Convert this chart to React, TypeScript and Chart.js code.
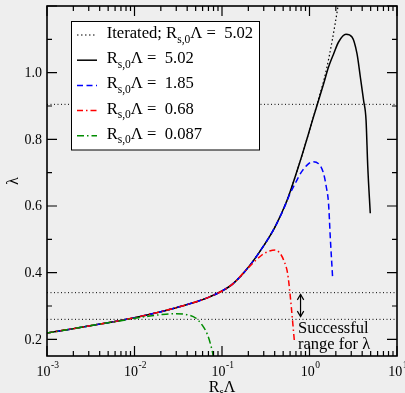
import React, { useEffect, useRef } from "react";
import { Chart, registerables } from "chart.js";

Chart.register(...registerables);

// ---------- data ----------
const xDecades = [-3, -2, -1, 0, 1];
const yTickLabels = ["0.2", "0.4", "0.6", "0.8", "1.0"];
const yMajorTicks = [0.2, 0.4, 0.6, 0.8, 1.0, 1.2];
const yMinorTicks = [0.3, 0.5, 0.7, 0.9, 1.1];

// shared low-x branch
const baseX = [0.001, 0.002, 0.003, 0.005, 0.01, 0.02, 0.03, 0.05, 0.07, 0.1, 0.135];
const baseY = [0.219, 0.232, 0.240, 0.250, 0.265, 0.283, 0.295, 0.312, 0.326, 0.345, 0.368];

// R_s,0 Λ = 5.02
const blackTailX = [0.2, 0.3, 0.4, 0.55, 0.7, 0.85, 1.0, 1.094, 1.27, 1.45, 1.65, 1.89, 2.15, 2.61, 3.06, 3.49, 3.81, 4.15, 4.43, 4.63, 4.95];
const blackTailY = [0.416, 0.481, 0.535, 0.615, 0.695, 0.765, 0.827, 0.862, 0.917, 0.967, 1.017, 1.057, 1.092, 1.115, 1.107, 1.057, 0.987, 0.917, 0.857, 0.72, 0.578];

// Iterated
const iterTailX = [0.2, 0.3, 0.4, 0.55, 0.7, 0.85, 1.0, 1.094, 1.22, 1.585, 2.12, 2.4];
const iterTailY = [0.416, 0.481, 0.535, 0.615, 0.695, 0.765, 0.827, 0.862, 0.905, 1.017, 1.2, 1.3];

// R_s,0 Λ = 1.85
const blueTailX = [0.2, 0.3, 0.4, 0.5, 0.6, 0.7, 0.8, 0.95, 1.08, 1.27, 1.45, 1.556, 1.65, 1.73, 1.84];
const blueTailY = [0.416, 0.481, 0.535, 0.588, 0.637, 0.672, 0.7, 0.724, 0.733, 0.727, 0.697, 0.657, 0.608, 0.503, 0.383];

// R_s,0 Λ = 0.68
const redTailX = [0.2, 0.286, 0.35, 0.407, 0.46, 0.506, 0.562, 0.593, 0.624, 0.67];
const redTailY = [0.415, 0.453, 0.465, 0.468, 0.458, 0.438, 0.398, 0.348, 0.288, 0.198];

// R_s,0 Λ = 0.087
const greenX = [0.001, 0.002, 0.003, 0.005, 0.007, 0.01, 0.015, 0.02, 0.03, 0.04, 0.05, 0.06, 0.068, 0.074, 0.078, 0.081];
const greenY = [0.219, 0.232, 0.240, 0.250, 0.256, 0.263, 0.270, 0.274, 0.277, 0.274, 0.264, 0.241, 0.215, 0.185, 0.16, 0.135];

const hLineX = [0.001, 10];
const hLineY = [0.905, 0.34, 0.26];

const arrowX = 0.79;
const arrowY = [0.335, 0.268];

const legendPrefix = ["Iterated; R", "R", "R", "R", "R"];
const legendValues = ["5.02", "5.02", "1.85", "0.68", "0.087"];
const annotationLines = ["Successful", "range for \u03bb"];

// ---------- styles ----------
const FONT = "'Liberation Serif', 'DejaVu Serif', serif";
const BG = "#eeeeee";
const GREEN = "rgb(0,140,0)";

const legendStyles = [
  { color: "#000", dash: [1.5, 2.5], width: 1.2 },
  { color: "#000", dash: [], width: 1.5 },
  { color: "#0000ff", dash: [6, 3.5], width: 1.5 },
  { color: "#ff0000", dash: [6, 3, 1.5, 3], width: 1.5 },
  { color: GREEN, dash: [7, 3, 1.5, 3], width: 1.5 },
];

function pts(xs: number[], ys: number[]) {
  return xs.map((x, i) => ({ x, y: ys[i] }));
}

const framePlugin = {
  id: "frame",
  beforeDraw(chart: any) {
    const { ctx, width, height } = chart;
    ctx.save();
    ctx.fillStyle = BG;
    ctx.fillRect(0, 0, width, height);
    ctx.restore();
  },
  afterDatasetsDraw(chart: any) {
    const { ctx, chartArea } = chart;
    const xs = chart.scales.x;
    const ys = chart.scales.y;
    const { left, right, top, bottom } = chartArea;
    ctx.save();
    ctx.setLineDash([]);
    ctx.strokeStyle = "#000";
    ctx.fillStyle = "#000";

    // frame
    ctx.lineWidth = 1.6;
    ctx.strokeRect(left, top, right - left, bottom - top);

    // ticks
    ctx.lineWidth = 1.2;
    const vtick = (px: number, len: number) => {
      ctx.beginPath();
      ctx.moveTo(px, bottom);
      ctx.lineTo(px, bottom - len);
      ctx.moveTo(px, top);
      ctx.lineTo(px, top + len);
      ctx.stroke();
    };
    const htick = (py: number, len: number) => {
      ctx.beginPath();
      ctx.moveTo(left, py);
      ctx.lineTo(left + len, py);
      ctx.moveTo(right, py);
      ctx.lineTo(right - len, py);
      ctx.stroke();
    };
    xDecades.forEach((d) => {
      vtick(xs.getPixelForValue(Math.pow(10, d)), 10);
      if (d < 1) {
        for (let m = 2; m <= 9; m++) vtick(xs.getPixelForValue(m * Math.pow(10, d)), 5);
      }
    });
    yMajorTicks.forEach((v) => htick(ys.getPixelForValue(v), 10));
    yMinorTicks.forEach((v) => htick(ys.getPixelForValue(v), 5));

    // y tick labels
    ctx.font = `14px ${FONT}`;
    ctx.textAlign = "right";
    ctx.textBaseline = "middle";
    yTickLabels.forEach((t) => {
      ctx.fillText(t, left - 5, ys.getPixelForValue(parseFloat(t)) + 0.5);
    });

    // x tick labels with superscripts
    ctx.textBaseline = "alphabetic";
    ctx.textAlign = "left";
    xDecades.forEach((d) => {
      const px = xs.getPixelForValue(Math.pow(10, d));
      ctx.font = `14px ${FONT}`;
      const w1 = ctx.measureText("10").width;
      ctx.font = `9.5px ${FONT}`;
      const sup = String(d);
      const w2 = ctx.measureText(sup).width;
      const x0 = px - (w1 + w2) / 2 + 0.5;
      ctx.font = `14px ${FONT}`;
      ctx.fillText("10", x0, 376);
      ctx.font = `9.5px ${FONT}`;
      ctx.fillText(sup, x0 + w1 + 0.5, 367.5);
    });

    // axis titles
    ctx.font = `16px ${FONT}`;
    const rW = ctx.measureText("R").width;
    const lW = ctx.measureText("\u039b").width;
    ctx.font = `11px ${FONT}`;
    const sW = ctx.measureText("s").width;
    const tx = (left + right) / 2 - (rW + sW + lW) / 2;
    ctx.font = `16px ${FONT}`;
    ctx.fillText("R", tx, 391.5);
    ctx.font = `11px ${FONT}`;
    ctx.fillText("s", tx + rW, 395);
    ctx.font = `16px ${FONT}`;
    ctx.fillText("\u039b", tx + rW + sW, 391.5);

    ctx.save();
    ctx.translate(14, (top + bottom) / 2);
    ctx.rotate(-Math.PI / 2);
    ctx.textAlign = "center";
    ctx.textBaseline = "middle";
    ctx.font = `16px ${FONT}`;
    ctx.fillText("\u03bb", 0, 0);
    ctx.restore();

    // legend
    const lx = 71.5, ly = 21.5, lw = 188, lh = 128.5;
    ctx.fillStyle = "#fff";
    ctx.fillRect(lx, ly, lw, lh);
    ctx.lineWidth = 1;
    ctx.strokeStyle = "#000";
    ctx.strokeRect(lx, ly, lw, lh);
    legendStyles.forEach((s, i) => {
      const ry = 35 + i * 25.2;
      ctx.save();
      ctx.strokeStyle = s.color;
      ctx.lineWidth = s.width;
      ctx.setLineDash(s.dash);
      ctx.beginPath();
      ctx.moveTo(77, ry);
      ctx.lineTo(97, ry);
      ctx.stroke();
      ctx.restore();
      ctx.fillStyle = "#000";
      ctx.textAlign = "left";
      ctx.textBaseline = "alphabetic";
      let cx = 106.7;
      const by = ry + 3;
      ctx.font = `16.6px ${FONT}`;
      ctx.fillText(legendPrefix[i], cx, by);
      cx += ctx.measureText(legendPrefix[i]).width;
      ctx.font = `11.5px ${FONT}`;
      ctx.fillText("s,0", cx, by + 4.5);
      cx += ctx.measureText("s,0").width;
      ctx.font = `16.6px ${FONT}`;
      ctx.fillText("\u039b =  " + legendValues[i], cx, by);
    });

    // double arrow
    const ax = xs.getPixelForValue(arrowX);
    const ay1 = ys.getPixelForValue(arrowY[0]);
    const ay2 = ys.getPixelForValue(arrowY[1]);
    ctx.strokeStyle = "#000";
    ctx.fillStyle = "#000";
    ctx.lineWidth = 1.2;
    ctx.beginPath();
    ctx.moveTo(ax, ay1);
    ctx.lineTo(ax, ay2);
    ctx.stroke();
    const head = (yTip: number, dir: number) => {
      ctx.beginPath();
      ctx.moveTo(ax - 3.2, yTip + dir * 5.5);
      ctx.lineTo(ax, yTip);
      ctx.lineTo(ax + 3.2, yTip + dir * 5.5);
      ctx.stroke();
    };
    head(ay1, 1);
    head(ay2, -1);

    // annotation text
    ctx.font = `16.5px ${FONT}`;
    ctx.textAlign = "left";
    ctx.textBaseline = "alphabetic";
    const base = ys.getPixelForValue(hLineY[2]);
    ctx.fillText(annotationLines[0], ax - 2.5, base + 14);
    ctx.fillText(annotationLines[1], ax - 2.5, base + 30);

    ctx.restore();
  },
};

export default function App() {
  const ref = useRef<HTMLCanvasElement | null>(null);
  useEffect(() => {
    document.body.style.margin = "0";
    document.body.style.background = BG;
    const canvas = ref.current;
    if (!canvas) return;
    const line = (label: string, data: any[], color: string, dash: number[], width: number, order: number) => ({
      label,
      data,
      borderColor: color,
      backgroundColor: color,
      borderDash: dash,
      borderWidth: width,
      pointRadius: 0,
      fill: false,
      cubicInterpolationMode: "monotone" as const,
      order,
    });
    const datasets: any[] = [
      ...hLineY.map((v, i) =>
        line("h" + i, pts(hLineX, [v, v]), "#000", [1, 2.5], 1, 6)
      ),
      line("Iterated", pts([...baseX, ...iterTailX], [...baseY, ...iterTailY]), "#000", [1.5, 2.5], 1.2, 5),
      line("5.02", pts([...baseX, ...blackTailX], [...baseY, ...blackTailY]), "#000", [], 1.5, 4),
      line("1.85", pts([...baseX, ...blueTailX], [...baseY, ...blueTailY]), "#0000ff", [6, 3.5], 1.5, 3),
      line("0.68", pts([...baseX, ...redTailX], [...baseY, ...redTailY]), "#ff0000", [6, 3, 1.5, 3], 1.5, 2),
      line("0.087", pts(greenX, greenY), GREEN, [7, 3, 1.5, 3], 1.5, 1),
    ];
    const chart = new Chart(canvas, {
      type: "line",
      data: { datasets },
      options: {
        responsive: false,
        animation: false,
        devicePixelRatio: 1,
        layout: { padding: { left: 47, right: 8, top: 6, bottom: 37 } },
        plugins: { legend: { display: false }, tooltip: { enabled: false } },
        scales: {
          x: { type: "logarithmic", min: 0.001, max: 10, display: false },
          y: { type: "linear", min: 0.15, max: 1.2, display: false },
        },
      },
      plugins: [framePlugin],
    });
    return () => chart.destroy();
  }, []);
  return (
    <canvas
      ref={ref}
      width={405}
      height={393}
      style={{ display: "block", width: 405, height: 393 }}
    />
  );
}
